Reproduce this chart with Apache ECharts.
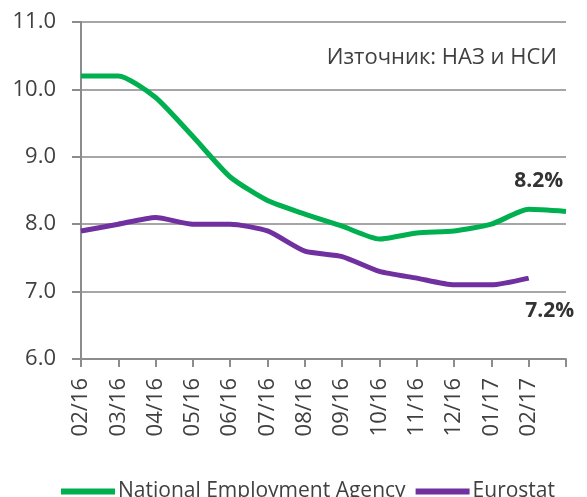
<!DOCTYPE html>
<html>
<head>
<meta charset="utf-8">
<script src="https://cdn.jsdelivr.net/npm/echarts@6/dist/echarts.min.js"></script>
<style>
  html, body { margin: 0; padding: 0; background: #fff; }
  #chart { width: 587px; height: 497px; }
</style>
</head>
<body>
<div id="chart"></div>
<script>
// months on the x axis (last point has no label)
const months = ['02/16', '03/16', '04/16', '05/16', '06/16', '07/16', '08/16', '09/16', '10/16', '11/16', '12/16', '01/17', '02/17', '']
const nea = [10.2, 10.2, 9.88, 9.3, 8.7, 8.35, 8.15, 7.97, 7.78, 7.87, 7.9, 8.0, 8.22, 8.19]
const eurostat = [7.9, 8.0, 8.1, 8.0, 8.0, 7.9, 7.6, 7.52, 7.3, 7.2, 7.1, 7.1, 7.2]
const seriesNames = ['National Employment Agency', 'Eurostat']
const sourceNote = 'Източник: НАЗ и НСИ'

const font = '"Open Sans", "Noto Sans", sans-serif'
const chart = echarts.init(document.getElementById('chart'))

// put a bold % label on the 02/17 point
function endLabel(data, text, pos, offset) {
  return data.map((v, i) => {
    if (i !== 12) return v
    return {
      value: v,
      label: {
        show: true,
        formatter: text,
        position: pos,
        offset: offset,
        fontFamily: font,
        fontSize: 21,
        fontWeight: 'bold',
        color: '#333'
      }
    }
  })
}

chart.setOption({
  animation: false,
  title: {
    text: sourceNote,
    right: 25,
    top: 42,
    textStyle: { fontFamily: font, fontSize: 22, fontWeight: 'normal', color: '#404040' }
  },
  grid: { left: 81, right: 21, top: 22, bottom: 138 },
  legend: {
    top: 476,
    left: 56,
    itemWidth: 54,
    itemHeight: 6,
    itemGap: 10,
    icon: 'rect',
    textStyle: { fontFamily: font, fontSize: 21, color: '#404040', padding: [0, 0, 0, -2] },
    data: seriesNames
  },
  xAxis: {
    type: 'category',
    data: months,
    boundaryGap: false,
    axisLine: { lineStyle: { color: '#8c8c8c', width: 2 } },
    axisTick: { show: true, length: 8, lineStyle: { color: '#8c8c8c', width: 2 } },
    axisLabel: {
      rotate: 90,
      interval: 0,
      margin: 19,
      fontFamily: font,
      fontSize: 22,
      color: '#404040'
    }
  },
  yAxis: {
    type: 'value',
    min: 6,
    max: 11,
    interval: 1,
    axisLine: { show: true, lineStyle: { color: '#8c8c8c', width: 2 } },
    axisTick: { show: true, length: 9, lineStyle: { color: '#8c8c8c', width: 2 } },
    splitLine: { lineStyle: { color: '#a6a6a6', width: 2 } },
    axisLabel: {
      formatter: v => v.toFixed(1),
      margin: 25,
      fontFamily: font,
      fontSize: 22,
      color: '#404040'
    }
  },
  series: [
    {
      name: seriesNames[0],
      type: 'line',
      data: endLabel(nea, '8.2%', 'top', [10, -13]),
      smooth: 0.2,
      symbol: 'circle',
      symbolSize: 0,
      showSymbol: true,
      color: '#00b050',
      lineStyle: { width: 5, color: '#00b050' }
    },
    {
      name: seriesNames[1],
      type: 'line',
      data: endLabel(eurostat, '7.2%', 'bottom', [21, 17]),
      smooth: 0.2,
      symbol: 'circle',
      symbolSize: 0,
      showSymbol: true,
      color: '#7030a0',
      lineStyle: { width: 5, color: '#7030a0' }
    }
  ]
})
</script>
</body>
</html>
